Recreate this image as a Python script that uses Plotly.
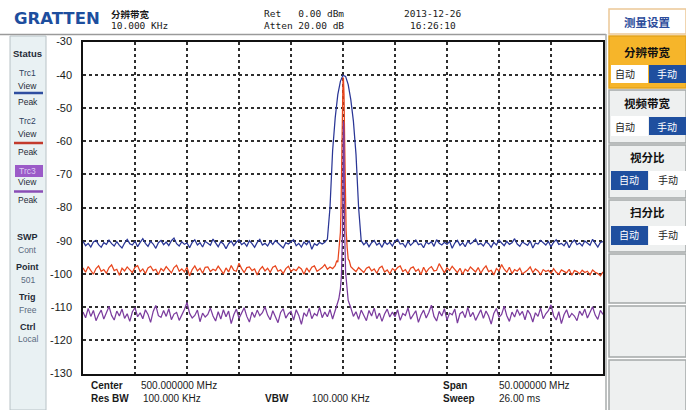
import plotly.graph_objects as go

W, H = 686, 410

# ---------------- data ----------------
FREQ_START, FREQ_STEP, N = 475.0, 0.25, 201
freq = [round(FREQ_START + FREQ_STEP * i, 3) for i in range(N)]

blue_trace = [
    -90.2, -91.5, -90.8, -91.9, -90.4, -89.9, -91.2, -92.0, -90.6, -91.1,
    -89.8, -90.9, -91.6, -90.3, -91.4, -92.2, -90.7, -89.6, -90.9, -91.3,
    -90.1, -91.8, -90.5, -89.4, -90.8, -91.7, -90.2, -91.0, -92.3, -90.6,
    -89.9, -91.2, -90.4, -91.5, -90.0, -89.2, -90.9, -91.6, -90.3, -91.1,
    -90.7, -92.1, -90.5, -89.7, -91.3, -90.6, -91.9, -90.2, -90.8, -91.4,
    -89.5, -90.7, -91.8, -90.3, -91.0, -92.4, -90.9, -90.1, -91.5, -90.4,
    -89.8, -91.2, -90.6, -91.7, -90.0, -90.9, -92.0, -90.5, -89.6, -91.3,
    -90.8, -91.6, -90.2, -91.1, -89.9, -90.7, -91.4, -92.2, -90.6, -91.0,
    -90.3, -89.7, -91.5, -90.8, -91.9, -90.4, -91.2, -90.0, -92.6, -90.9,
    -91.4, -90.5, -91.0, -90.5, -89.5, -80.0, -63.0, -53.0, -46.0, -42.0,
    -40.2, -40.5, -43.0, -47.5, -54.0, -64.0, -80.0, -90.0, -91.2, -90.4,
    -91.8, -90.6, -89.9, -91.3, -90.7, -92.0, -90.3, -91.1, -90.5, -91.6,
    -90.1, -89.6, -91.0, -90.8, -91.9, -90.2, -91.4, -90.6, -89.8, -91.2,
    -90.9, -92.1, -90.4, -91.0, -90.3, -91.7, -89.7, -90.8, -91.3, -90.5,
    -91.1, -90.2, -92.3, -90.7, -89.9, -91.4, -90.6, -91.8, -90.1, -91.0,
    -90.4, -89.5, -91.2, -90.8, -91.6, -90.3, -90.9, -92.0, -90.5, -91.3,
    -89.8, -90.7, -91.5, -90.2, -91.1, -90.6, -89.4, -91.0, -91.7, -90.4,
    -90.9, -91.4, -90.1, -92.2, -90.7, -91.0, -89.9, -90.6, -91.3, -90.2,
    -91.8, -90.5, -89.7, -91.1, -90.8, -91.5, -90.3, -92.1, -90.6, -89.8,
    -91.2, -90.7, -91.6, -90.1, -90.9, -91.4, -89.6, -90.8, -91.9, -90.5,
    -90.3,
]

red_trace = [
    -98.2, -99.5, -97.8, -98.9, -100.1, -98.4, -97.6, -99.2, -98.7, -99.8,
    -98.1, -97.3, -99.0, -98.6, -100.4, -98.3, -99.1, -97.9, -98.8, -99.6,
    -98.0, -97.5, -99.3, -98.5, -99.9, -98.2, -97.7, -99.0, -98.6, -100.2,
    -98.4, -99.1, -97.8, -98.9, -99.7, -98.1, -97.4, -99.2, -98.5, -99.4,
    -98.0, -100.6, -98.7, -97.6, -99.1, -98.3, -99.8, -98.0, -97.9, -99.3,
    -98.6, -99.0, -97.7, -98.8, -100.0, -98.2, -99.4, -97.5, -98.9, -99.2,
    -96.8, -98.4, -99.6, -98.1, -97.9, -99.0, -98.5, -100.3, -98.7, -97.8,
    -99.1, -98.3, -99.5, -98.0, -97.6, -99.2, -98.8, -99.9, -98.4, -97.7,
    -99.3, -98.6, -99.0, -97.9, -98.5, -100.1, -98.2, -99.4, -98.0, -97.6,
    -99.2, -98.7, -98.1, -97.2, -98.6, -97.9, -98.4, -97.5, -96.5, -87.5,
    -41.0, -85.0, -95.5, -97.8, -98.6, -99.3, -98.1, -98.9, -99.6, -98.3,
    -97.9, -99.1, -98.5, -99.8, -98.2, -97.7, -99.4, -98.8, -100.0, -98.4,
    -99.0, -98.1, -97.6, -99.3, -98.7, -99.9, -98.3, -97.9, -99.2, -98.6,
    -100.2, -98.0, -99.5, -98.4, -97.8, -99.1, -98.9, -96.9, -98.5, -99.7,
    -98.2, -99.0, -97.7, -98.8, -99.6, -98.3, -100.1, -98.6, -99.2, -97.9,
    -98.7, -99.4, -98.1, -99.8, -98.5, -97.6, -99.3, -98.9, -100.3, -98.4,
    -99.1, -97.2, -98.6, -99.5, -98.0, -99.9, -98.7, -99.2, -98.3, -100.0,
    -99.4, -98.8, -97.9, -99.6, -98.5, -99.1, -100.2, -98.7, -99.3, -98.9,
    -99.8, -98.4, -99.5, -100.1, -98.8, -99.2, -99.7, -98.6, -100.4, -99.0,
    -99.3, -100.0, -98.9, -99.6, -99.2, -100.3, -98.8, -99.5, -99.9, -100.6,
    -99.4,
]

purple_trace = [
    -111.5, -113.2, -110.4, -112.8, -111.0, -114.1, -112.3, -110.9, -113.6, -111.8,
    -109.8, -112.5, -113.9, -111.2, -112.7, -110.6, -113.4, -112.0, -114.3, -111.4,
    -110.2, -112.9, -111.7, -113.5, -110.8, -112.2, -114.6, -111.3, -109.5, -112.6,
    -113.1, -111.0, -112.8, -110.5, -113.8, -112.1, -111.6, -114.0, -112.4, -110.7,
    -108.6, -111.9, -113.3, -112.5, -110.9, -114.4, -111.8, -113.0, -112.2, -110.3,
    -112.7, -114.2, -111.4, -113.6, -110.8, -112.9, -111.2, -115.0, -112.3, -110.6,
    -113.4, -111.9, -110.2, -112.8, -114.5, -111.5, -113.1, -110.9, -112.6, -111.7,
    -109.9, -112.4, -113.8, -111.1, -112.9, -114.7, -111.6, -110.5, -113.3, -112.0,
    -111.3, -113.9, -110.8, -112.5, -115.2, -111.7, -112.8, -110.4, -113.5, -111.9,
    -112.6, -110.1, -113.2, -111.5, -112.9, -110.7, -113.6, -111.2, -109.0, -105.0,
    -65.0, -100.0, -106.5, -110.2, -112.8, -111.4, -113.7, -110.9, -112.3, -114.1,
    -111.0, -112.7, -110.3, -113.5, -111.8, -114.3, -112.1, -110.6, -113.0, -111.5,
    -112.9, -110.8, -114.0, -111.9, -112.5, -110.2, -113.6, -112.2, -111.1, -114.6,
    -112.4, -110.9, -113.3, -111.6, -109.4, -112.8, -114.2, -111.3, -112.7, -110.5,
    -113.9, -111.8, -112.3, -110.6, -114.8, -112.0, -111.4, -113.2, -110.1, -112.9,
    -111.6, -114.0, -112.5, -110.8, -113.4, -111.2, -112.7, -115.1, -111.9, -110.4,
    -113.1, -112.2, -109.7, -112.6, -114.3, -111.5, -113.0, -110.7, -112.4, -111.3,
    -113.8, -110.9, -112.1, -114.5, -111.7, -112.8, -110.3, -113.5, -112.0, -111.1,
    -109.3, -112.6, -113.9, -111.4, -115.0, -112.3, -110.8, -113.2, -111.9, -112.7,
    -114.1, -111.2, -112.5, -110.6, -113.3, -111.8, -109.9, -112.4, -113.7, -111.0,
    -112.2,
]

# fine detail of the narrow carriers (MHz, dBm)
red_peak_freq = [499.3, 499.4, 499.6, 499.7, 499.8, 499.86, 499.92, 499.98, 500.04, 500.1, 500.16, 500.22, 500.3, 500.4, 500.6, 500.7]
red_peak_level = [-97.0, -96.0, -93.5, -90.0, -82.0, -66.0, -50.0, -42.0, -41.0, -46.0, -60.0, -76.0, -87.0, -92.0, -96.0, -97.0]
purple_peak_freq = [499.6, 499.75, 499.85, 499.95, 500.0, 500.05, 500.1, 500.15, 500.25, 500.35, 500.5]
purple_peak_level = [-107.5, -104.5, -100.5, -88.0, -66.0, -54.0, -58.0, -86.0, -99.5, -103.5, -108.0]

y_tick_vals = [-30, -40, -50, -60, -70, -80, -90, -100, -110, -120, -130]
y_tick_text = ["-30", "-40", "-50", "-60", "-70", "-80", "-90", "-100", "-110", "-120", "-130"]
x_grid_vals = [475, 480, 485, 490, 495, 500, 505, 510, 515, 520, 525]


def merge(f, v, pf, pv):
    d = dict(zip(f, v))
    d.update({round(a, 3): b for a, b in zip(pf, pv)})
    ks = sorted(d)
    return ks, [d[k] for k in ks]


red_f, red_v = merge(freq, red_trace, red_peak_freq, red_peak_level)
pur_f, pur_v = merge(freq, purple_trace, purple_peak_freq, purple_peak_level)

BLUE = "#2a3696"
RED = "#e8461e"
PURPLE = "#7b3c9e"

fig = go.Figure()
fig.add_trace(go.Scatter(x=freq, y=blue_trace, mode="lines", line=dict(color=BLUE, width=1.25), showlegend=False))
fig.add_trace(go.Scatter(x=red_f, y=red_v, mode="lines", line=dict(color=RED, width=1.25), showlegend=False))
fig.add_trace(go.Scatter(x=pur_f, y=pur_v, mode="lines", line=dict(color=PURPLE, width=1.25), showlegend=False))


def px(x):
    return x / W


def py(y):
    return 1 - y / H


shapes = []
annots = []


def rect(x0, y0, x1, y1, fill, line=None, lw=0, layer="below"):
    shapes.append(dict(type="rect", xref="paper", yref="paper",
                       x0=px(x0), x1=px(x1), y0=py(y1), y1=py(y0),
                       fillcolor=fill, line=dict(color=line or fill, width=lw), layer=layer))


def hline(x0, x1, y, color, w=1):
    shapes.append(dict(type="line", xref="paper", yref="paper",
                       x0=px(x0), x1=px(x1), y0=py(y), y1=py(y), line=dict(color=color, width=w), layer="below"))


def vline(x, y0, y1, color, w=1):
    shapes.append(dict(type="line", xref="paper", yref="paper",
                       x0=px(x), x1=px(x), y0=py(y0), y1=py(y1), line=dict(color=color, width=w), layer="below"))


def txt(x, y, s, size=10, color="#1a1a1a", family="Liberation Sans", anchor="left", bold=False):
    if bold:
        s = "<b>" + s + "</b>"
    annots.append(dict(x=px(x), y=py(y), xref="paper", yref="paper", text=s, showarrow=False,
                       xanchor=anchor, yanchor="middle", borderpad=0,
                       font=dict(size=size, color=color, family=family)))


CJK = "Noto Sans CJK SC"
MONO = "DejaVu Sans Mono"

# ---- header ----
hline(0, 606, 34.5, "#9a9a9a", 1.5)
txt(13, 18, "GRATTEN", size=16.5, color="#1d4e9e", family="DejaVu Sans", bold=True)
txt(110, 13.5, "分辨带宽", size=9.5, color="#1a1a1a", family=CJK, bold=True)
txt(110, 25, "10.000 KHz", size=9.5, family=MONO)
txt(263, 13.5, "Ret   0.00 dBm", size=9.5, family=MONO)
txt(263, 25, "Atten 20.00 dB", size=9.5, family=MONO)
txt(403, 13.5, "2013-12-26", size=9.5, family=MONO)
txt(409, 25, "16:26:10", size=9.5, family=MONO)

# ---- left status panel ----
rect(10, 36, 46, 410, "#e9f1f3", "#b8c2c6", 1)
txt(28, 53, "Status", size=9.5, color="#1f2a36", anchor="center", bold=True)
txt(28, 73, "Trc1", size=8.5, color="#2e4060", anchor="center")
txt(28, 86, "View", size=8.5, color="#1f2a36", anchor="center")
hline(14, 43, 93, "#2f4ea0", 2.5)
txt(28, 102, "Peak", size=8.5, color="#1f2a36", anchor="center")
txt(28, 121, "Trc2", size=8.5, color="#2e4060", anchor="center")
txt(28, 134, "View", size=8.5, color="#1f2a36", anchor="center")
hline(14, 43, 143, "#c33a2c", 2.5)
txt(28, 152, "Peak", size=8.5, color="#1f2a36", anchor="center")
rect(15, 165, 43, 177, "#9b5bc8")
txt(28, 171, "Trc3", size=8.5, color="#dccdf2", anchor="center")
txt(28, 182, "View", size=8.5, color="#1f2a36", anchor="center")
hline(14, 43, 191.5, "#8a4eb6", 2.5)
txt(28, 200, "Peak", size=8.5, color="#1f2a36", anchor="center")
txt(28, 237, "SWP", size=9, color="#1f2a36", anchor="center", bold=True)
txt(28, 250, "Cont", size=8.5, color="#5a6a80", anchor="center")
txt(28, 267, "Point", size=9, color="#1f2a36", anchor="center", bold=True)
txt(28, 280, "501", size=8.5, color="#5a6a80", anchor="center")
txt(28, 297, "Trig", size=9, color="#1f2a36", anchor="center", bold=True)
txt(28, 310, "Free", size=8.5, color="#5a6a80", anchor="center")
txt(28, 327, "Ctrl", size=9, color="#1f2a36", anchor="center", bold=True)
txt(28, 339, "Local", size=8.5, color="#5a6a80", anchor="center")

# ---- bottom info ----
txt(90, 385, "Center", size=10, bold=True)
txt(140, 385, "500.000000 MHz", size=10)
txt(90, 398, "Res BW", size=10, bold=True)
txt(142, 398, "100.000 KHz", size=10)
txt(264, 398, "VBW", size=10, bold=True)
txt(311, 398, "100.000 KHz", size=10)
txt(442, 385, "Span", size=10, bold=True)
txt(498, 385, "50.000000 MHz", size=10)
txt(442, 398, "Sweep", size=10, bold=True)
txt(498, 398, "26.00 ms", size=10)

# ---- right menu panel ----
vline(606, 34, 410, "#a8acac", 1.5)
rect(609, 9, 686, 34, "#ffffff", "#ecc896", 1.5)
txt(647, 22, "测量设置", size=11.5, color="#2b4c9b", family=CJK, anchor="center", bold=True)

BTN = "#1f4f9f"
# box 1 (active, orange)
rect(609, 36, 686, 88, "#f6b52a", "#e2a21e", 1.5)
txt(647, 52, "分辨带宽", size=11.5, color="#111", family=CJK, anchor="center", bold=True)
rect(611, 65, 648, 83, "#ffffff")
rect(649, 65, 686, 83, BTN)
txt(625, 74, "自动", size=10, color="#222", family=CJK, anchor="center")
txt(667, 74, "手动", size=10, color="#ffffff", family=CJK, anchor="center")
# box 2
rect(609, 90, 686, 143, "#eef0f0", "#a4a8a8", 1.5)
txt(647, 103, "视频带宽", size=11.5, color="#111", family=CJK, anchor="center", bold=True)
rect(611, 116, 648, 136, "#ffffff")
rect(649, 117, 686, 135, BTN)
txt(625, 126, "自动", size=10, color="#222", family=CJK, anchor="center")
txt(667, 126, "手动", size=10, color="#ffffff", family=CJK, anchor="center")
# box 3
rect(609, 145, 686, 198, "#eef0f0", "#a4a8a8", 1.5)
txt(647, 157, "视分比", size=11.5, color="#111", family=CJK, anchor="center", bold=True)
rect(649, 171, 686, 190, "#ffffff")
rect(611, 171, 648, 190, BTN)
txt(629, 180, "自动", size=10, color="#ffffff", family=CJK, anchor="center")
txt(668, 180, "手动", size=10, color="#222", family=CJK, anchor="center")
# box 4
rect(609, 200, 686, 252, "#eef0f0", "#a4a8a8", 1.5)
txt(647, 212, "扫分比", size=11.5, color="#111", family=CJK, anchor="center", bold=True)
rect(649, 226, 686, 245, "#ffffff")
rect(611, 226, 648, 245, BTN)
txt(629, 235, "自动", size=10, color="#ffffff", family=CJK, anchor="center")
txt(668, 235, "手动", size=10, color="#222", family=CJK, anchor="center")
# empty boxes
rect(609, 254, 686, 303, "#eef0f0", "#a4a8a8", 1.5)
rect(609, 306, 686, 357, "#eef0f0", "#a4a8a8", 1.5)
rect(609, 360, 686, 412, "#eef0f0", "#a4a8a8", 1.5)

fig.update_layout(
    width=W, height=H,
    margin=dict(l=0, r=0, t=0, b=0, pad=0, autoexpand=False),
    paper_bgcolor="#ffffff", plot_bgcolor="#ffffff",
    shapes=shapes, annotations=annots,
    showlegend=False,
    xaxis=dict(domain=[px(83), px(603)], range=[475, 525], tickvals=x_grid_vals, automargin=False,
               showticklabels=False, showgrid=True, gridcolor="#2e2e2e", griddash="dot", gridwidth=1.5,
               zeroline=False, showline=True, linecolor="#111", linewidth=1.5, mirror=True, ticks=""),
    yaxis=dict(domain=[py(373.5), py(41.5)], range=[-130, -30], tickvals=y_tick_vals, ticktext=y_tick_text,
               automargin=False,
               showgrid=True, gridcolor="#2e2e2e", griddash="dot", gridwidth=1.5,
               zeroline=False, showline=True, linecolor="#111", linewidth=1.5, mirror=True, ticks="",
               ticklabelstandoff=7,
               tickfont=dict(size=11, color="#1a1a1a", family="Liberation Sans")),
)

fig.write_html("out.html",
               config={"displayModeBar": False},
               post_script="document.body.style.margin='0';document.body.style.padding='0';"
                           "document.documentElement.style.overflow='hidden';")
